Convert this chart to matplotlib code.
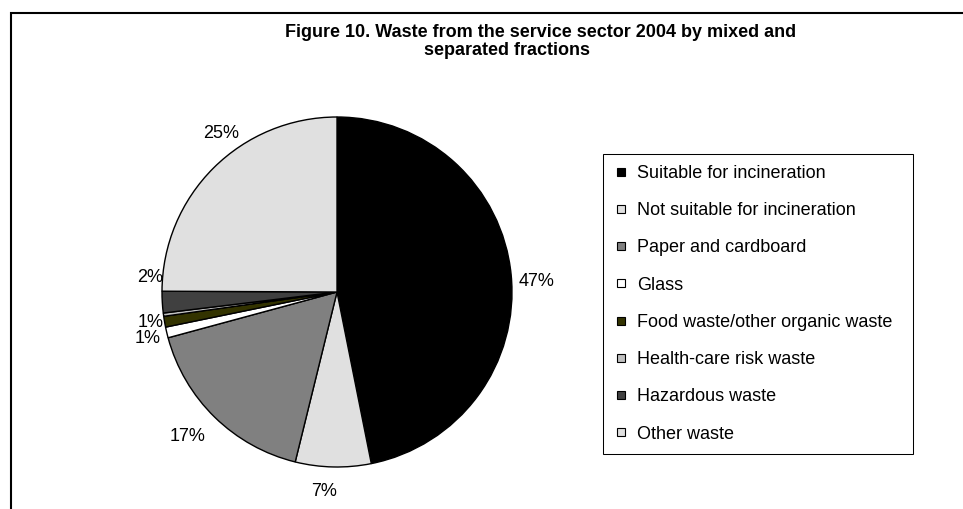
import numpy as np
import matplotlib
matplotlib.use("Agg")
import matplotlib.pyplot as plt
from matplotlib.patches import Rectangle
from matplotlib.lines import Line2D

plt.rcParams['font.family'] = ['Liberation Sans', 'DejaVu Sans']

# Данные: отходы сектора услуг 2004, доли в процентах
categories = [
    'Suitable for incineration',
    'Not suitable for incineration',
    'Paper and cardboard',
    'Glass',
    'Food waste/other organic waste',
    'Health-care risk waste',
    'Hazardous waste',
    'Other waste',
]
shares = [47, 7, 17, 1, 1, 0.3, 2, 25]
colors = ['#000000', '#e0e0e0', '#808080', '#ffffff',
          '#333300', '#c0c0c0', '#404040', '#e0e0e0']

# сдвиг угла (град.) и радиус подписи для каждого сектора
label_pos = {
    'Suitable for incineration': (-2, 1.14),
    'Not suitable for incineration': (-2.5, 1.13),
    'Paper and cardboard': (-2, 1.18),
    'Glass': (0, 1.11),
    'Food waste/other organic waste': (-1, 1.08),
    'Hazardous waste': (-8.5, 1.07),
    'Other waste': (-9, 1.13),
}

W, H = 963, 509
fig = plt.figure(figsize=(W / 100, H / 100), dpi=100)

def fx(x):
    return x / W

def fy(y):
    return 1 - y / H

# рамка диаграммы (правый и нижний край за пределами рисунка)
fig.patches.append(Rectangle((fx(11), -0.05), 1.1, fy(13) + 0.05,
                             transform=fig.transFigure, fill=False,
                             edgecolor='black', linewidth=1.5))

# круговая диаграмма: центр (337, 292), радиус 175 px
cx, cy, r = 337, 292, 175
ax = fig.add_axes([fx(cx - r), fy(cy + r), 2 * r / W, 2 * r / H])
wedges, _ = ax.pie(shares, colors=colors, startangle=90, counterclock=False,
                   wedgeprops=dict(edgecolor='black', linewidth=1.0))
ax.set_xlim(-1, 1)
ax.set_ylim(-1, 1)
ax.set_aspect('equal')
ax.axis('off')

for w, name, v in zip(wedges, categories, shares):
    if v < 0.5:
        continue
    dth, rad = label_pos[name]
    ang = np.deg2rad((w.theta1 + w.theta2) / 2 + dth)
    ax.text(rad * np.cos(ang), rad * np.sin(ang), f'{v:.0f}%',
            ha='center', va='center_baseline', fontsize=13)

# заголовок
fig.text(fx(541), fy(37), 'Figure 10. Waste from the service sector 2004 by mixed and',
         ha='center', va='baseline', fontsize=13, fontweight='bold')
fig.text(fx(507), fy(55), 'separated fractions',
         ha='center', va='baseline', fontsize=13, fontweight='bold')

# легенда
fig.patches.append(Rectangle((fx(603), fy(454)), (913 - 603) / W, (454 - 154) / H,
                             transform=fig.transFigure, fill=False,
                             edgecolor='black', linewidth=0.75))
handles = [Line2D([], [], linestyle='none', marker='s', markersize=5.5,
                  markerfacecolor=c, markeredgecolor='black', markeredgewidth=0.8)
           for c in colors]
fig.legend(handles, categories, loc='upper left', bbox_to_anchor=(fx(616), fy(165)),
           frameon=False, fontsize=13, borderpad=0, borderaxespad=0,
           handlelength=0.6, handletextpad=0.55, labelspacing=1.12)

fig.savefig('out.png', dpi=100)
